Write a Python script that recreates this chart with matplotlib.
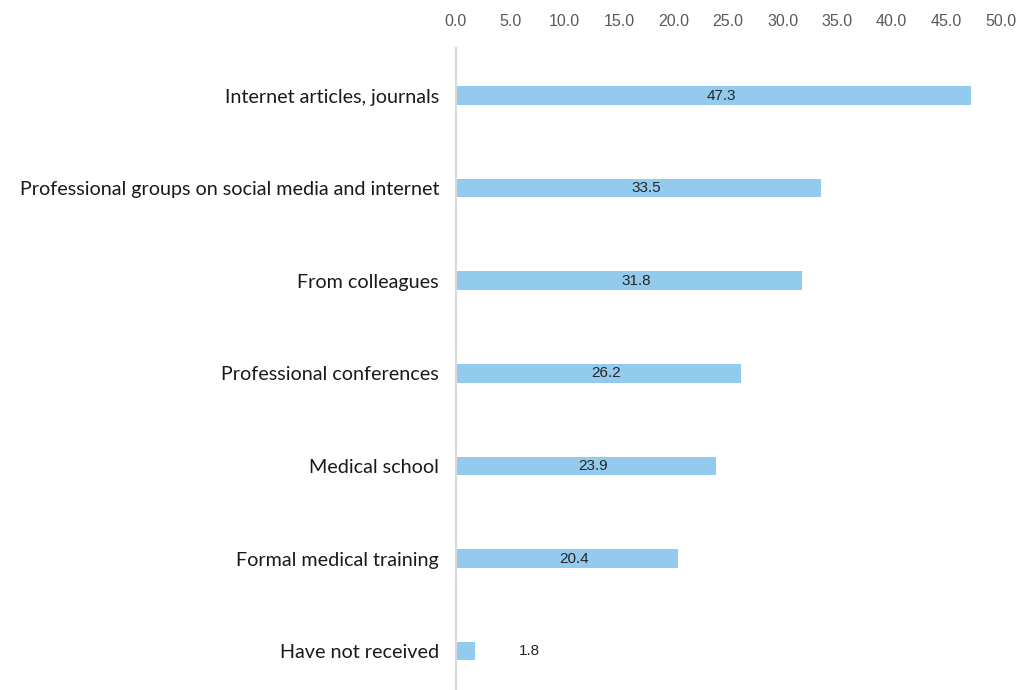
import numpy as np
import matplotlib
matplotlib.use("Agg")
from matplotlib import pyplot as plt

categories = ["Internet articles, journals",
              "Professional groups on social media and internet",
              "From colleagues",
              "Professional conferences",
              "Medical school",
              "Formal medical training",
              "Have not received"]
values = [47.3, 33.5, 31.8, 26.2, 23.9, 20.4, 1.8]
xticks = [0, 5, 10, 15, 20, 25, 30, 35, 40, 45, 50]

fig = plt.figure(figsize=(10.24, 6.9), dpi=100)
ax = fig.add_axes([0.445, 0.0, 0.532, 0.930])

y = np.arange(len(categories))
ax.barh(y, values, height=0.2, color="#93CBEE")

# value labels, centred in the bar; small bars get the label outside
for yi, v in zip(y, values):
    if v > 5:
        ax.text(v / 2 + 0.7, yi, f"{v:.1f}", ha="center", va="center",
                fontsize=11, color="#262626", family="Liberation Sans")
    else:
        ax.text(v + 5.0, yi, f"{v:.1f}", ha="center", va="center",
                fontsize=11, color="#262626", family="Liberation Sans")

ax.set_xlim(0, 50)
ax.set_ylim(6.42, -0.51)
ax.set_yticks(y)
ax.set_yticklabels(categories, fontsize=14.2, color="#1a1a1a", family="Lato")
ax.set_xticks(xticks)
ax.set_xticklabels([f"{t:.1f}" for t in xticks], fontsize=11.5,
                   color="#595959", family="Liberation Sans")
ax.xaxis.tick_top()
ax.tick_params(axis="both", length=0)
ax.tick_params(axis="x", pad=14)
ax.tick_params(axis="y", pad=12)

for s in ["top", "right", "bottom"]:
    ax.spines[s].set_visible(False)
ax.spines["left"].set_color("#D9D9D9")
ax.spines["left"].set_linewidth(1.5)

fig.savefig("out.png", dpi=100)
